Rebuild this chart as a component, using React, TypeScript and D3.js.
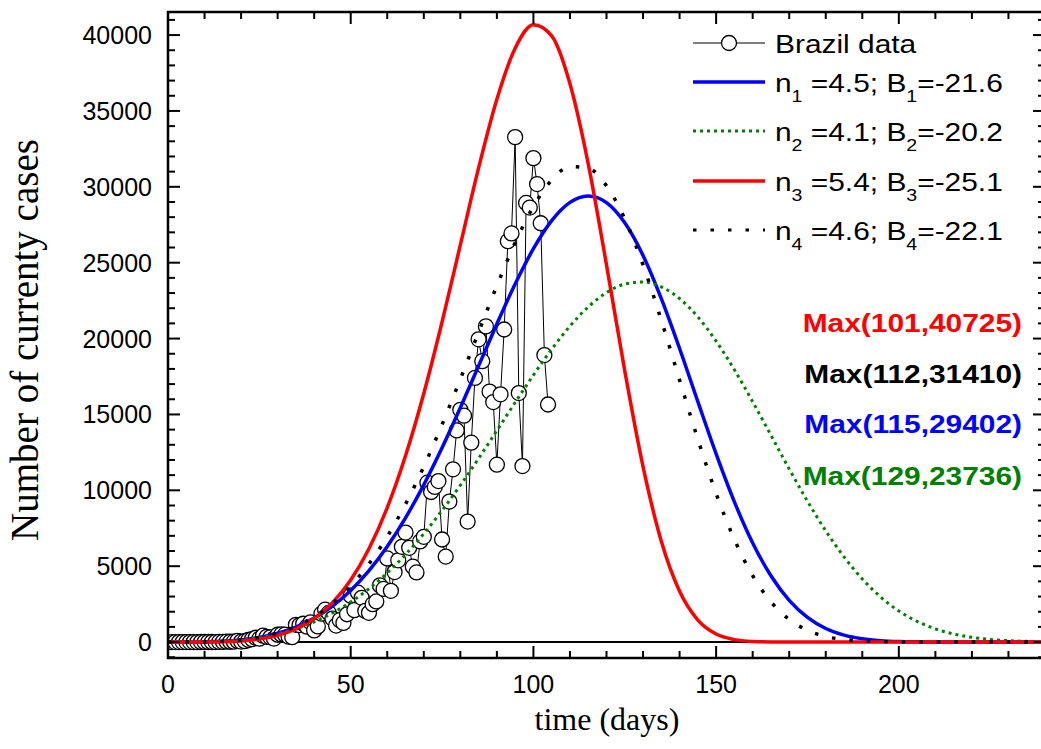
import React from 'react';
import * as d3 from 'd3';

const W = 1041;
const H = 749;

// Model curve sample days
const curveDays = [0,5,10,15,20,25,30,35,40,45,50,55,60,65,70,75,80,85,90,95,100,105,110,115,120,125,130,135,140,145,150,155,160,165,170,175,180,185,190,195,200,205,210,215,220,225,230,235,240];

// n1=4.5; B1=-21.6 (blue)
const blueValues = [0,1,12,51,140,306,580,992,1579,2373,3405,4707,6298,8186,10362,12799,15436,18200,20963,23595,25921,27770,28976,29402,28958,27626,25471,22631,19347,15842,12399,9238,6530,4369,2746,1620,892,455,216,94,37,13,4,1,0,0,0,0,0];
// n2=4.1; B2=-20.2 (green)
const greenValues = [0,2,18,64,156,312,548,883,1332,1913,2637,3515,4560,5770,7145,8673,10332,12103,13933,15785,17596,19297,20817,22084,23031,23591,23727,23408,22630,21422,19834,17942,15834,13629,11408,9283,7327,5609,4159,2972,2051,1361,869,531,311,174,93,47,23];
// n3=5.4; B3=-25.1 (red)
const redValues = [0,0,4,21,74,198,441,866,1554,2597,4097,6154,8857,12272,16380,21091,26170,31245,35773,39129,40680,39947,36787,31514,24854,17870,11566,6642,3344,1450,530,161,40,8,1,0,0,0,0,0,0,0,0,0,0,0,0,0,0];
// n4=4.6; B4=-22.1 (black)
const blackValues = [0,1,11,49,139,310,598,1040,1675,2548,3696,5155,6948,9087,11560,14333,17322,20423,23483,26316,28706,30443,31328,31222,30061,27886,24855,21202,17269,13365,9790,6760,4375,2648,1486,770,367,159,63,22,7,0,0,0,0,0,0,0,0];

// Brazil data: daily cases, day 1..104
const brazilCases = [1,0,0,1,0,1,0,1,4,6, 6,6,0,9,18,25,21,23,79,34, 57,137,193,283,224,418,345,310,232,482, 502,487,352,323,1138,1119,1208,1012,1304,770, 1031,1873,2136,1922,1546,1089,1442,1261,1832,3058, 2105,3257,2917,2055,1927,2498,2678,3735,3503,5514, 3379,4613,5385,6276,7218,6209,4970,4588,6633,6935, 10503,9888,10222,10611,6760,5632,9258,11385,13944,15305, 14919,7938,13140,17408,19951,18508,20803,16508,15813,11687, 16324,20599,26417,26928,33274,16409,11598,28936,28633,31890, 30183,27600,18912,15654];

const xTicks = [0,50,100,150,200];
const yTicks = [0,5000,10000,15000,20000,25000,30000,35000,40000];

const maxLabels = ['Max(101,40725)','Max(112,31410)','Max(115,29402)','Max(129,23736)'];
const maxColors = ['#ff0000','#000000','#0000ff','#008000'];

const SANS = "'Liberation Sans', Arial, sans-serif";
const SERIF = "'Liberation Serif', 'Times New Roman', serif";

export default function App() {
  const x = d3.scaleLinear().domain([0, 240]).range([168, 1045]);
  const y = d3.scaleLinear().domain([-1050, 41520]).range([658, 12]);
  const left = x(0), right = x(240), top = y(41520), bottom = y(-1050);

  const mkLine = (vals: number[]) =>
    d3.line<number>().x((_, i) => x(curveDays[i])).y(d => y(d)).curve(d3.curveMonotoneX)(vals) || '';

  const dataLine = d3.line<number>().x((_, i) => x(i + 1)).y(d => y(d))(brazilCases) || '';

  const minorY = d3.range(-1000, 41001, 1000);
  const minorX = d3.range(0, 241, 10);

  const legendRows = [
    { color: '#0000ff', dash: undefined, n: '1', nv: '4.5', b: '-21.6', ly: 82 },
    { color: '#008000', dash: '3 4', n: '2', nv: '4.1', b: '-20.2', ly: 131 },
    { color: '#ff0000', dash: undefined, n: '3', nv: '5.4', b: '-25.1', ly: 181 },
    { color: '#000000', dash: '3.5 14', n: '4', nv: '4.6', b: '-22.1', ly: 230 },
  ];

  return (
    <svg width={W} height={H} style={{ position: 'absolute', left: 0, top: 0, background: '#fff' }}>
      <defs>
        <clipPath id="plotclip">
          <rect x={left} y={top} width={right - left} height={bottom - top} />
        </clipPath>
      </defs>
      <rect x={0} y={0} width={W} height={H} fill="#fff" />

      {/* zero line */}
      <line x1={left} x2={right} y1={y(0)} y2={y(0)} stroke="#000" strokeWidth={2} />

      <g clipPath="url(#plotclip)">
        {/* data */}
        <path d={dataLine} fill="none" stroke="#000" strokeWidth={1} />
        {brazilCases.map((v, i) => (
          <circle key={i} cx={x(i + 1)} cy={y(v)} r={7.5} fill="#fff" stroke="#000" strokeWidth={1.3} />
        ))}
        {/* curves */}
        <path d={mkLine(blueValues)} fill="none" stroke="#0000ff" strokeWidth={3.5} />
        <path d={mkLine(greenValues)} fill="none" stroke="#008000" strokeWidth={3} strokeDasharray="3 4" />
        <path d={mkLine(redValues)} fill="none" stroke="#ff0000" strokeWidth={3.5} />
        <path d={mkLine(blackValues)} fill="none" stroke="#000" strokeWidth={3.5} strokeDasharray="3.5 14" />
      </g>

      {/* frame */}
      <rect x={left} y={top} width={right - left} height={bottom - top} fill="none" stroke="#000" strokeWidth={2.5} />

      {/* y ticks left & right */}
      {minorY.map(v => {
        const major = v % 5000 === 0;
        const len = major ? 12 : 7;
        return (
          <g key={'y' + v}>
            <line x1={left} x2={left + len} y1={y(v)} y2={y(v)} stroke="#000" strokeWidth={2} />
            <line x1={right} x2={right - len} y1={y(v)} y2={y(v)} stroke="#000" strokeWidth={2} />
          </g>
        );
      })}
      {/* x ticks bottom & top */}
      {minorX.map(v => {
        const major = v % 50 === 0;
        const len = major ? 12 : 7;
        return (
          <g key={'x' + v}>
            <line x1={x(v)} x2={x(v)} y1={bottom} y2={bottom - len} stroke="#000" strokeWidth={2} />
            <line x1={x(v)} x2={x(v)} y1={top} y2={top + len} stroke="#000" strokeWidth={2} />
          </g>
        );
      })}

      {/* tick labels */}
      {yTicks.map(v => (
        <text key={'yl' + v} x={152} y={y(v) + 9} textAnchor="end" fontFamily={SANS} fontSize={25} fill="#000">{v}</text>
      ))}
      {xTicks.map(v => (
        <text key={'xl' + v} x={x(v)} y={693} textAnchor="middle" fontFamily={SANS} fontSize={25} fill="#000">{v}</text>
      ))}

      {/* axis titles */}
      <text x={607} y={730} textAnchor="middle" fontFamily={SERIF} fontSize={32} fill="#000">time (days)</text>
      <text transform="translate(38,340) rotate(-90)" textAnchor="middle" fontFamily={SERIF} fontSize={39} fill="#000">Number of currenty cases</text>

      {/* legend */}
      <line x1={693} x2={765} y1={43} y2={43} stroke="#000" strokeWidth={1} />
      <circle cx={729} cy={43} r={7.5} fill="#fff" stroke="#000" strokeWidth={1.3} />
      <text transform="translate(775,53) scale(1.15,1)" fontFamily={SANS} fontSize={26} fill="#000">Brazil data</text>
      {legendRows.map(r => (
        <g key={r.n}>
          <line x1={693} x2={765} y1={r.ly} y2={r.ly} stroke={r.color} strokeWidth={r.dash ? 3 : 3.5} strokeDasharray={r.dash} />
          <text transform={`translate(775,${r.ly + 10}) scale(1.15,1)`} fontFamily={SANS} fontSize={26} fill="#000">
            n<tspan fontSize={17} dy={10}>{r.n}</tspan><tspan dy={-10}>{' =' + r.nv + '; B'}</tspan><tspan fontSize={17} dy={10}>{r.n}</tspan><tspan dy={-10}>{'=' + r.b}</tspan>
          </text>
        </g>
      ))}

      {/* max annotations */}
      {maxLabels.map((t, i) => (
        <text key={t} transform={`translate(1022,${[332, 383, 433, 485][i]}) scale(1.15,1)`} textAnchor="end" fontFamily={SANS} fontWeight="bold" fontSize={26} fill={maxColors[i]}>{t}</text>
      ))}
    </svg>
  );
}
